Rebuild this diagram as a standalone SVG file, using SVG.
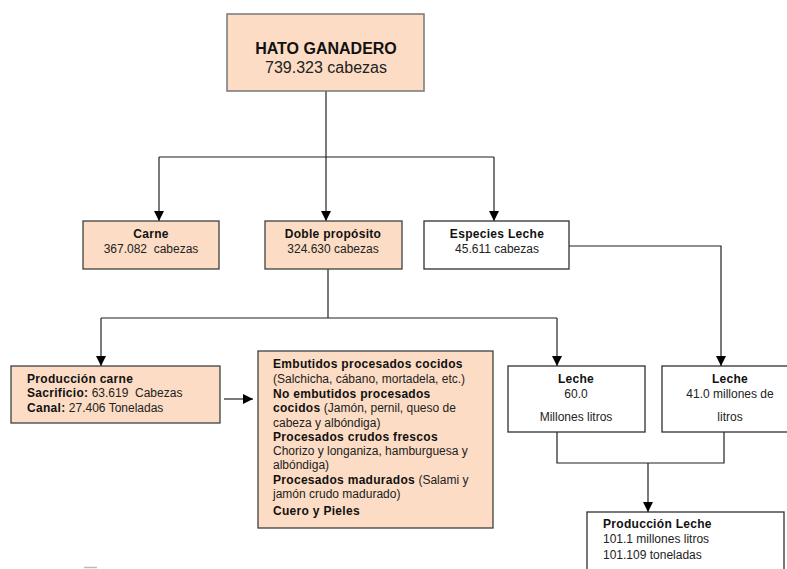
<svg xmlns="http://www.w3.org/2000/svg" width="787" height="569" viewBox="0 0 787 569">
<defs>
<marker id="ah" viewBox="0 0 10 10" refX="10" refY="5" markerWidth="10" markerHeight="10" markerUnits="userSpaceOnUse" orient="auto">
<path d="M0,0 L10,5 L0,10 Z" fill="#000"/>
</marker>
<style>
.peach{fill:#fcdcc4;stroke:#404040;stroke-width:1.3}
.white{fill:#fff;stroke:#303030;stroke-width:1.3}
.c{fill:none;stroke:#202020;stroke-width:1.2}
text{font-family:"Liberation Sans",Arial,sans-serif;font-size:12px;fill:#222}
.b{font-weight:bold;fill:#111;letter-spacing:0.3px}
.m{text-anchor:middle}
.big{font-size:16px;letter-spacing:0}
</style>
</defs>
<rect width="787" height="569" fill="#fff"/>
<g id="connectors">
<path class="c" d="M326,91 V157"/>
<path class="c" d="M159,157 H494"/>
<path class="c" d="M159,157 V221" marker-end="url(#ah)"/>
<path class="c" d="M326,157 V221" marker-end="url(#ah)"/>
<path class="c" d="M494,157 V221" marker-end="url(#ah)"/>
<path class="c" d="M328,269 V318"/>
<path class="c" d="M101,318 H557"/>
<path class="c" d="M101,318 V366" marker-end="url(#ah)"/>
<path class="c" d="M557,318 V366" marker-end="url(#ah)"/>
<path class="c" d="M569,246 H721 V366" marker-end="url(#ah)"/>
<path class="c" d="M224,399 H253" marker-end="url(#ah)"/>
<path class="c" d="M557,432 V463 H724 V432"/>
<path class="c" d="M648,463 V512" marker-end="url(#ah)"/>
<path d="M84,567.5 H97" stroke="#bbb" stroke-width="1.5"/>
</g>
<g id="hato">
<rect class="peach" x="227" y="14" width="197" height="77" style="stroke:#777;stroke-width:1.5"/>
<text class="b m big" x="326" y="54">HATO GANADERO</text>
<text class="m big" x="326" y="73">739.323 cabezas</text>
</g>
<g id="carne">
<rect class="peach" x="83" y="221" width="136" height="48"/>
<text class="b m" x="151" y="238">Carne</text>
<text class="m" x="151" y="253" xml:space="preserve">367.082  cabezas</text>
</g>
<g id="doble">
<rect class="peach" x="265" y="221" width="137" height="48"/>
<text class="b m" x="333" y="238">Doble propósito</text>
<text class="m" x="333" y="253">324.630 cabezas</text>
</g>
<g id="especies">
<rect class="white" x="424" y="221" width="145" height="48"/>
<text class="b m" x="497" y="238">Especies Leche</text>
<text class="m" x="497" y="253">45.611 cabezas</text>
</g>
<g id="prodcarne">
<rect class="peach" x="11" y="366" width="209" height="57"/>
<text class="b" x="27" y="383">Producción carne</text>
<text x="27" y="397" xml:space="preserve"><tspan class="b">Sacrificio:</tspan> 63.619  Cabezas</text>
<text x="27" y="412"><tspan class="b">Canal:</tspan> 27.406 Toneladas</text>
</g>
<g id="embutidos">
<rect class="peach" x="258" y="351" width="235" height="177"/>
<text class="b" x="273" y="368">Embutidos procesados cocidos</text>
<text x="273" y="383">(Salchicha, cábano, mortadela, etc.)</text>
<text class="b" x="273" y="398">No embutidos procesados</text>
<text x="273" y="412"><tspan class="b">cocidos</tspan> (Jamón, pernil, queso de</text>
<text x="273" y="427">cabeza y albóndiga)</text>
<text class="b" x="273" y="441">Procesados crudos frescos</text>
<text x="273" y="455">Chorizo y longaniza, hamburguesa y</text>
<text x="273" y="469">albóndiga)</text>
<text x="273" y="484"><tspan class="b">Procesados madurados</tspan> (Salami y</text>
<text x="273" y="498">jamón crudo madurado)</text>
<text class="b" x="273" y="515">Cuero y Pieles</text>
</g>
<g id="leche1">
<rect class="white" x="508" y="366" width="137" height="66"/>
<text class="b m" x="576" y="383">Leche</text>
<text class="m" x="576" y="398">60.0</text>
<text class="m" x="576" y="421">Millones litros</text>
</g>
<g id="leche2">
<rect class="white" x="662" y="366" width="136" height="66"/>
<text class="b m" x="730" y="383">Leche</text>
<text class="m" x="730" y="398">41.0 millones de</text>
<text class="m" x="730" y="421">litros</text>
</g>
<g id="prodleche">
<rect class="white" x="587" y="512" width="197" height="70"/>
<text class="b" x="603" y="528">Producción Leche</text>
<text x="603" y="543">101.1 millones litros</text>
<text x="603" y="559">101.109 toneladas</text>
</g>
</svg>
